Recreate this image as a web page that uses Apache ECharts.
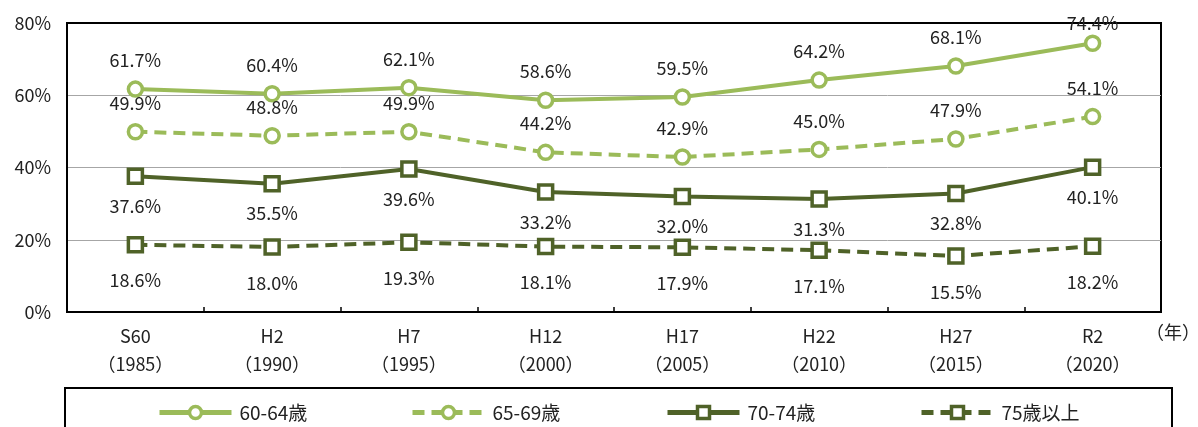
<!DOCTYPE html>
<html>
<head>
<meta charset="utf-8">
<script src="https://cdn.jsdelivr.net/npm/echarts@6/dist/echarts.min.js"></script>
<style>
  html, body { margin: 0; padding: 0; background: #fff; }
  #chart { width: 1198px; height: 427px; }
</style>
</head>
<body>
<div id="chart"></div>
<script>
// Survey years (era name + western year)
const categories = ['S60\n（1985）', 'H2\n（1990）', 'H7\n（1995）', 'H12\n（2000）',
                    'H17\n（2005）', 'H22\n（2010）', 'H27\n（2015）', 'R2\n（2020）'];
const yTicks = [0, 20, 40, 60, 80];

// Employment rate by age group (%)
const age6064 = [61.7, 60.4, 62.1, 58.6, 59.5, 64.2, 68.1, 74.4];
const age6569 = [49.9, 48.8, 49.9, 44.2, 42.9, 45.0, 47.9, 54.1];
const age7074 = [37.6, 35.5, 39.6, 33.2, 32.0, 31.3, 32.8, 40.1];
const age75up = [18.6, 18.0, 19.3, 18.1, 17.9, 17.1, 15.5, 18.2];

const seriesNames = ['60-64歳', '65-69歳', '70-74歳', '75歳以上'];

const LIGHT = '#9bbb59';
const DARK = '#4f6228';
const FONT = '"Noto Sans CJK JP", "Noto Sans", sans-serif';

// Labels near the top edge are tucked in closer so they stay inside the frame
function withLabelDistance(data, nearTop, yMax, dist) {
  return data.map(v => (v > yMax - 10 ? { value: v, label: { distance: nearTop } } : { value: v, label: { distance: dist } }));
}

function makeSeries(name, data, color, dashed, symbol, labelPos, dist) {
  return {
    name: name,
    type: 'line',
    data: withLabelDistance(data, 2, yTicks[yTicks.length - 1], dist),
    symbol: symbol,
    symbolSize: 14,
    showAllSymbol: true,
    lineStyle: { color: color, width: 4, type: dashed ? [12, 7] : 'solid' },
    itemStyle: { color: '#fff', borderColor: color, borderWidth: 3.5 },
    emphasis: { disabled: true },
    label: {
      show: true,
      position: labelPos,
      distance: dist,
      fontFamily: FONT,
      fontSize: 18,
      color: '#222',
      formatter: p => p.value.toFixed(1) + '%'
    },
    z: 3
  };
}

const legendLefts = [152, 405, 660, 914];
const legends = seriesNames.map((n, i) => ({
  data: [n],
  left: legendLefts[i],
  top: 398,
  itemWidth: 72,
  itemHeight: 15,
  itemGap: 0,
  itemStyle: { borderWidth: 3.5 },
  lineStyle: { width: 5 },
  textStyle: { fontFamily: FONT, fontSize: 19, color: '#222', padding: [0, 0, 0, 3] },
  selectedMode: false
}));

const option = {
  animation: false,
  backgroundColor: '#fff',
  grid: {
    left: 67, right: 37, top: 23, bottom: 115,
    show: true, borderColor: '#000', borderWidth: 2, backgroundColor: 'transparent'
  },
  legend: legends,
  xAxis: {
    type: 'category',
    data: categories,
    boundaryGap: true,
    axisLine: { lineStyle: { color: '#000', width: 2 } },
    axisTick: { show: true, inside: true, length: 5, lineStyle: { color: '#000', width: 1.5 } },
    axisLabel: { fontFamily: FONT, fontSize: 18, color: '#222', lineHeight: 28, margin: 10 }
  },
  yAxis: {
    type: 'value',
    min: yTicks[0],
    max: yTicks[yTicks.length - 1],
    interval: 20,
    axisLine: { show: true, lineStyle: { color: '#000', width: 2 } },
    axisTick: { show: false },
    axisLabel: { fontFamily: FONT, fontSize: 18, color: '#222', margin: 16, formatter: v => v + '%' },
    splitLine: { show: true, showMinLine: false, showMaxLine: false, lineStyle: { color: '#a6a6a6', width: 1 } }
  },
  graphic: [
    {
      type: 'text',
      left: 1146,
      top: 323,
      style: { text: '（年）', font: '18px ' + FONT, fill: '#222' }
    },
    {
      type: 'rect',
      shape: { x: 65, y: 388, width: 1107, height: 60 },
      style: { fill: 'none', stroke: '#000', lineWidth: 2 },
      z: -1
    }
  ],
  series: [
    makeSeries(seriesNames[0], age6064, LIGHT, false, 'circle', 'top', 11),
    makeSeries(seriesNames[1], age6569, LIGHT, true, 'circle', 'top', 11),
    makeSeries(seriesNames[2], age7074, DARK, false, 'rect', 'bottom', 12),
    makeSeries(seriesNames[3], age75up, DARK, true, 'rect', 'bottom', 18)
  ]
};

const chart = echarts.init(document.getElementById('chart'), null, { renderer: 'canvas' });
chart.setOption(option);
</script>
</body>
</html>
